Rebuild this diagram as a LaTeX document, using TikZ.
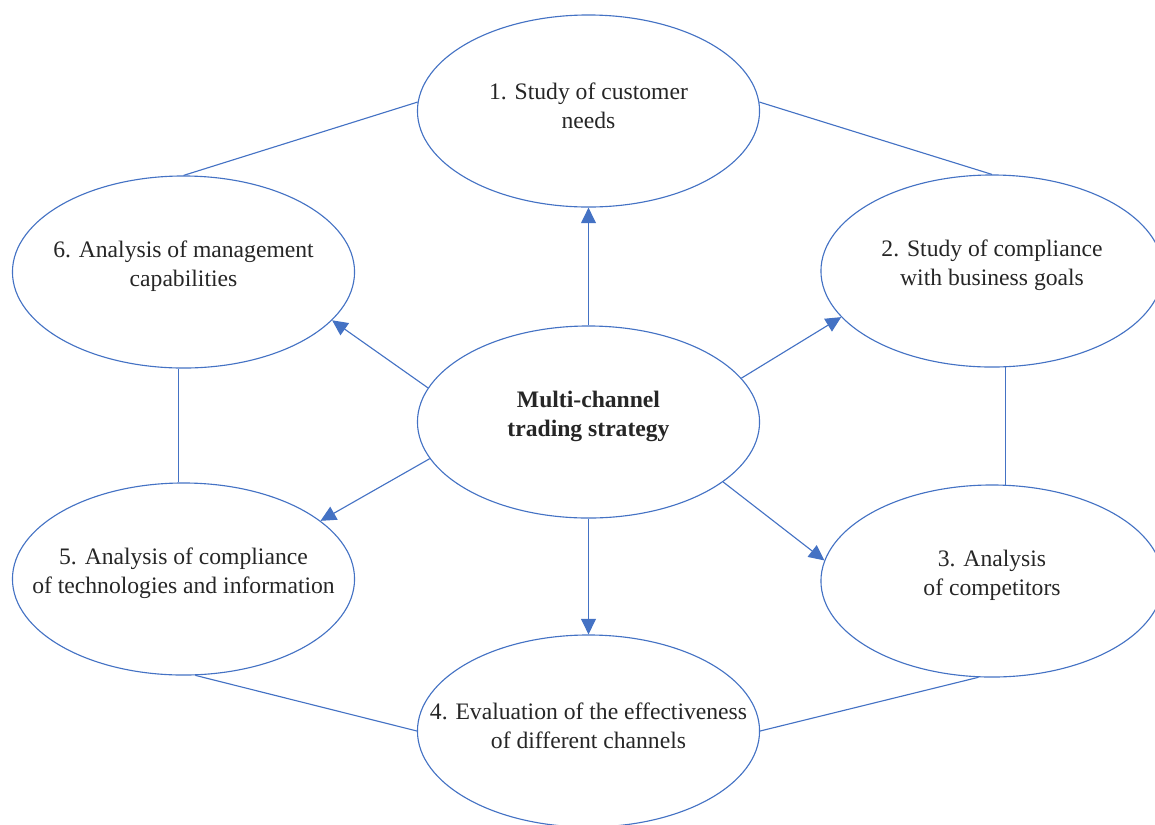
\documentclass[tikz,border=0pt]{standalone}
\usepackage{fontspec}
\setmainfont{Liberation Serif}
\usepackage{tikz}
\usetikzlibrary{arrows.meta,shapes.geometric,positioning}
\definecolor{linkblue}{HTML}{4472C4}

\begin{document}
\begin{tikzpicture}[x=0.025cm,y=-0.025cm]
  \tikzset{
    bubble/.style={draw=linkblue, line width=0.8pt, ellipse, fill=white, minimum width=8.55cm, minimum height=4.8cm, inner sep=0pt},
    txt/.style={align=center, text=black!85, font=\fontsize{16.8}{20.6}\selectfont, inner sep=0pt},
    link/.style={linkblue, line width=0.8pt},
    flow/.style={-{Triangle[length=11pt,width=10.5pt]}, linkblue, line width=0.8pt}
  }
  \useasboundingbox (0,0) rectangle (1155,824);

  % Column positions (pixels of the layout)
  \def\xL{183.5}
  \def\xM{588.5}
  \def\xR{992}

  % Ellipses
  \node[bubble] (hub) at (\xM,422) {};
  \node[bubble] (needs) at (\xM,111) {};
  \node[bubble] (goals) at (\xR,271) {};
  \node[bubble] (comp) at (\xR,581) {};
  \node[bubble] (chan) at (\xM,731) {};
  \node[bubble] (tech) at (\xL,579) {};
  \node[bubble] (mgmt) at (\xL,272) {};

  % Texts
  \node[txt, font=\fontsize{16.8}{20.6}\selectfont\bfseries] (hubT) at ([yshift=4]hub) {Multi-channel\\trading strategy};
  \node[txt] (needsT) at ([yshift=4]needs) {1. Study of customer\\needs};
  \node[txt] (goalsT) at ([yshift=4]goals) {2. Study of compliance\\with business goals};
  \node[txt] (compT) at ([yshift=4]comp) {3. Analysis\\of competitors};
  \node[txt] (chanT) at ([yshift=4]chan) {4. Evaluation of the effectiveness\\of different channels};
  \node[txt] (techT) at ([yshift=4]tech) {5. Analysis of compliance\\of technologies and information};
  \node[txt] (mgmtT) at ([yshift=4]mgmt) {6. Analysis of management\\capabilities};

  % Outer ring
  \draw[link] (needs.3) -- (goals.north);
  \draw[link] (goals.278) -- (comp.82);
  \draw[link] (comp.262) -- (chan.east);
  \draw[link] (chan.west) -- (tech.277);
  \draw[link] (tech.93) -- (mgmt.267);
  \draw[link] (mgmt.north) -- (needs.177);

  % Arrows from the hub
  \draw[flow] (hub.north) -- (needs.south);
  \draw[flow] (hub.16) -- (goals.197);
  \draw[flow] (hub.336) -- (comp.173);
  \draw[flow] (hub.south) -- (chan.north);
  \draw[flow] (hub.193) -- (tech.23);
  \draw[flow] (hub.168) -- (mgmt.342);
\end{tikzpicture}
\end{document}
